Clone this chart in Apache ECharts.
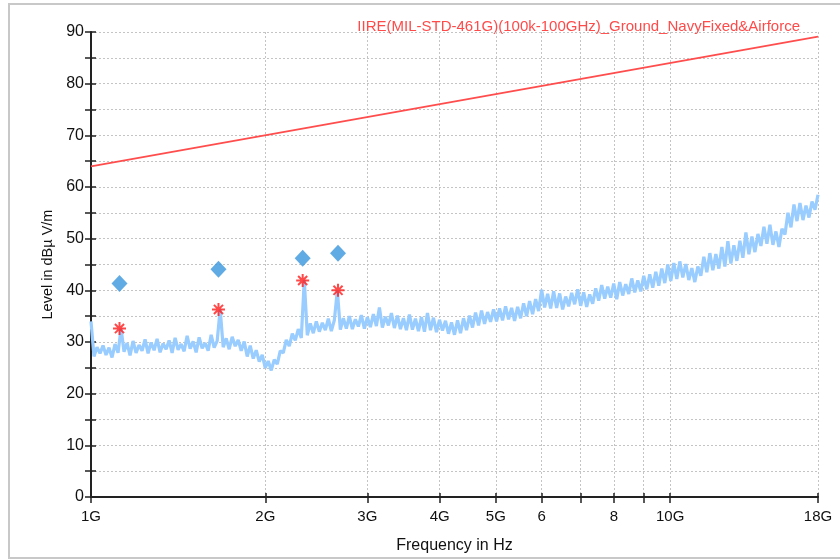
<!DOCTYPE html>
<html>
<head>
<meta charset="utf-8">
<script src="https://cdn.jsdelivr.net/npm/echarts@6/dist/echarts.min.js"></script>
<style>
  html, body { margin: 0; padding: 0; background: #fff; }
  #chart { width: 840px; height: 559px; }
</style>
</head>
<body>
<div id="chart"></div>
<script>
// sweep definition (GHz), log spaced
const sweepStart = 1;
const sweepStop = 18;

// measured trace, dBuV/m, one value per sweep point
const traceLevels = [
  34.0, 27.2, 29.0, 27.8, 29.3, 27.5, 28.9, 27.0, 29.6, 27.9,
  32.6, 28.1, 29.8, 27.4, 30.2, 27.9, 29.4, 28.3, 30.5, 27.8,
  29.9, 28.4, 30.6, 28.0, 29.7, 28.6, 30.3, 27.9, 30.8, 28.5,
  29.6, 28.2, 31.2, 28.7, 30.1, 28.0, 30.9, 28.8, 29.8, 28.3,
  31.4, 28.9, 30.2, 36.3, 29.0, 30.7, 28.6, 31.0, 29.2, 30.4,
  28.3, 30.1, 27.2, 29.3, 26.8, 28.4, 26.2, 27.5, 25.0, 26.3,
  24.5, 26.6, 25.7, 28.3, 27.9, 30.4, 29.2, 31.6, 30.3, 32.5,
  30.8, 42.0, 31.3, 33.6, 31.7, 34.0, 32.0, 33.7, 32.3, 34.5,
  32.1, 34.2, 40.0, 32.4, 34.6, 32.6, 35.0, 32.5, 34.4, 33.0,
  35.2, 32.6, 34.8, 32.9, 35.4, 33.1, 36.7, 32.8, 34.9, 33.2,
  35.6, 32.7, 35.1, 32.5, 34.6, 32.3, 35.3, 32.4, 34.5, 32.1,
  34.8, 32.0, 35.6, 32.3, 34.7, 31.9, 34.3, 32.2, 34.1, 31.6,
  33.8, 31.4, 34.2, 31.7, 34.6, 32.3, 35.1, 32.8, 35.7, 33.2,
  36.1, 33.5, 35.8, 33.9, 36.3, 34.0, 36.5, 34.2, 36.9, 34.4,
  36.6, 34.1, 36.8, 34.6, 37.5, 35.0, 37.9, 35.4, 38.3, 36.0,
  40.1, 36.7, 39.3, 36.5, 39.8, 36.6, 39.4, 36.3, 38.8, 36.9,
  39.5, 37.3, 40.2, 37.0, 39.6, 36.8, 39.2, 37.4, 40.4, 38.0,
  41.0, 38.4, 40.7, 38.6, 41.3, 38.3, 41.6, 39.0, 41.2, 39.3,
  42.3, 39.6, 41.9, 39.8, 42.8, 40.2, 43.1, 40.5, 43.6, 40.9,
  44.2, 41.4, 45.0, 41.8, 45.3, 42.2, 45.6, 42.5, 45.1, 42.0,
  44.3, 41.6, 44.6, 42.8, 46.5, 43.5, 47.2, 43.9, 47.0, 44.2,
  48.4, 44.6, 49.5, 45.2, 48.7, 45.7, 49.6, 46.3, 51.2, 47.0,
  50.4, 47.4, 50.9, 48.6, 52.3, 49.0, 52.7, 48.8, 51.4, 48.4,
  51.9, 50.8, 55.0, 52.2, 56.6, 53.4, 56.9, 53.6, 56.4, 54.1,
  57.2, 55.6, 58.5
];

// limit line end points
const limitFreq = [1, 18];
const limitLevel = [64.0, 89.1];
const limitName = 'IIRE(MIL-STD-461G)(100k-100GHz)_Ground_NavyFixed&Airforce';

// final measurement points
const peakFreq = [1.12, 1.66, 2.32, 2.67];
const peakLevel = [32.6, 36.3, 41.9, 40.0];
const finalLevel = [41.3, 44.1, 46.2, 47.2];

// axis ticks
const xTickValues = [1, 2, 3, 4, 5, 6, 7, 8, 9, 10, 18];
const xLabelValues = [1, 2, 3, 4, 5, 6, 8, 10, 18];
const xLabelText = ['1G', '2G', '3G', '4G', '5G', '6', '8', '10G', '18G'];

const n = traceLevels.length;
const trace = traceLevels.map((v, i) =>
  [sweepStart * Math.pow(sweepStop / sweepStart, i / (n - 1)), v]);

const font = 'Liberation Sans, Arial, sans-serif';
const gridCss = { left: 91, right: 22, top: 32, bottom: 61 };

const asterisk = 'path://M0,-10L0,10M-10,0L10,0M-7,-7L7,7M-7,7L7,-7';

const xBase = {
  type: 'log', logBase: 10, min: 1, max: 18, gridIndex: 0
};
const yBase = {
  type: 'value', min: 0, max: 90, interval: 5, gridIndex: 0
};

const option = {
  animation: false,
  backgroundColor: '#fff',
  grid: Object.assign({ containLabel: false }, gridCss),
  xAxis: [
    Object.assign({}, xBase, {
      name: 'Frequency in Hz',
      nameLocation: 'middle',
      nameGap: 41,
      nameTextStyle: { fontFamily: font, fontSize: 16, color: '#111' },
      axisLine: { lineStyle: { color: '#222', width: 2 } },
      axisTick: { customValues: xTickValues, length: 6, lineStyle: { color: '#222', width: 1.5 } },
      axisLabel: {
        customValues: xLabelValues,
        margin: 12,
        fontFamily: font, fontSize: 15, color: '#111',
        formatter: v => xLabelText[xLabelValues.indexOf(Math.round(v))] || ''
      },
      splitLine: { show: true, lineStyle: { color: '#c4c4c4', type: [2, 2], width: 1 } },
      minorTick: { show: false }
    }),
    Object.assign({}, xBase, {
      position: 'bottom',
      axisLine: { show: false },
      axisTick: { customValues: xTickValues, inside: true, length: 4, lineStyle: { color: '#222', width: 1.5 } },
      axisLabel: { show: false },
      splitLine: { show: false }
    })
  ],
  yAxis: [
    Object.assign({}, yBase, {
      name: 'Level in dBµ V/m',
      nameLocation: 'middle',
      nameGap: 36,
      nameTextStyle: { fontFamily: font, fontSize: 14.5, color: '#111' },
      axisLine: { show: true, lineStyle: { color: '#222', width: 2 } },
      axisTick: { show: true, length: 6, lineStyle: { color: '#222', width: 1.5 } },
      axisLabel: {
        margin: 7,
        fontFamily: font, fontSize: 16, color: '#111',
        formatter: v => (v % 10 === 0 ? String(v) : '')
      },
      splitLine: { show: true, lineStyle: { color: '#c4c4c4', type: [2, 2], width: 1 } }
    }),
    Object.assign({}, yBase, {
      position: 'left',
      axisLine: { show: false },
      axisTick: { show: true, inside: true, length: 5, lineStyle: { color: '#222', width: 1.5 } },
      axisLabel: { show: false },
      splitLine: { show: false }
    })
  ],
  graphic: [
    {
      type: 'rect', silent: true, z: -1,
      shape: { x: 9, y: 4, width: 850, height: 554 },
      style: { fill: 'none', stroke: '#c8c8c8', lineWidth: 2 }
    },
    {
      type: 'text', x: 800, y: 27, silent: true,
      style: {
        text: limitName, fill: '#ff4a4a',
        font: '15px ' + font, align: 'right', verticalAlign: 'middle'
      }
    }
  ],
  series: [
    {
      name: 'trace',
      type: 'line',
      data: trace,
      showSymbol: false,
      symbol: 'none',
      lineStyle: { color: '#99ccff', width: 3.2, join: 'bevel' },
      z: 2
    },
    {
      name: 'limit',
      type: 'line',
      data: limitFreq.map((f, i) => [f, limitLevel[i]]),
      symbol: 'none',
      lineStyle: { color: '#ff4d4d', width: 1.8 },
      z: 3
    },
    {
      name: 'peak',
      type: 'scatter',
      data: peakFreq.map((f, i) => [f, peakLevel[i]]),
      symbol: asterisk,
      symbolSize: 13,
      itemStyle: { color: '#ff1a1a', borderColor: '#ff1a1a', borderWidth: 2 },
      z: 5
    },
    {
      name: 'final',
      type: 'scatter',
      data: peakFreq.map((f, i) => [f, finalLevel[i]]),
      symbol: 'diamond',
      symbolSize: [16, 17],
      itemStyle: { color: '#3a96dd' },
      z: 5
    }
  ]
};

echarts.init(document.getElementById('chart'), null, { renderer: 'canvas' }).setOption(option);
</script>
</body>
</html>
